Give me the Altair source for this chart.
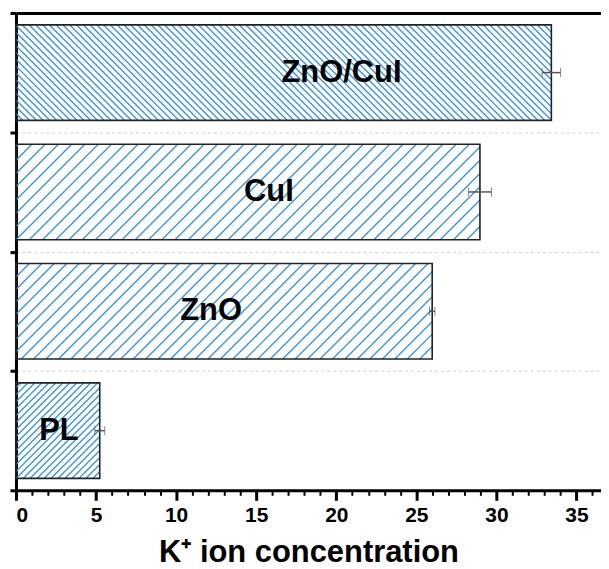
import altair as alt
import pandas as pd
import numpy as np

# ---- data ----
categories = ["PL", "ZnO", "CuI", "ZnO/CuI"]
values = [5.23, 25.99, 28.97, 33.43]
errors = [0.31, 0.17, 0.72, 0.58]

# ---- styles ----
X_MAX = 36.53
W, H = 587, 479
BAR_FRAC = 0.8
BLUE = "#3f94da"
FONT = "Liberation Sans"
hatch_style = {"PL": ("/", 7.0), "ZnO": ("/", 12.5), "CuI": ("/", 13.3), "ZnO/CuI": ("\\", 6.8)}
label_dx = {"PL": 1, "ZnO": -13, "CuI": 21, "ZnO/CuI": 58}

n = len(categories)
kx = W / X_MAX
ky = H / n

df = pd.DataFrame({
    "cat": categories,
    "idx": list(range(n)),
    "val": values,
    "err": errors,
})
df["lo"] = df["val"] - df["err"]
df["hi"] = df["val"] + df["err"]
df["b0"] = df["idx"] - BAR_FRAC / 2
df["b1"] = df["idx"] + BAR_FRAC / 2
df["zero"] = 0.0
df["mid"] = df["val"] / 2

# hatch segments derived from each bar's rectangle (pixel-space 45 degree lines)
segs = []
for c, i, v in zip(categories, range(n), values):
    d, p = hatch_style[c]
    x0, x1 = 0.0, v * kx
    y0, y1 = (i - BAR_FRAC / 2) * ky, (i + BAR_FRAC / 2) * ky
    if d == "/":
        for cc in np.arange(y0 - x1, y1 - x0, p):
            a = max(x0, y0 - cc)
            b = min(x1, y1 - cc)
            if b - a > 0.3:
                segs.append((a / kx, (a + cc) / ky, b / kx, (b + cc) / ky))
    else:
        for cc in np.arange(y0 + x0, y1 + x1, p):
            a = max(x0, cc - y1)
            b = min(x1, cc - y0)
            if b - a > 0.3:
                segs.append((a / kx, (cc - a) / ky, b / kx, (cc - b) / ky))
hdf = pd.DataFrame(segs, columns=["hx1", "hy1", "hx2", "hy2"])

x_scale = alt.Scale(domain=[0, X_MAX], nice=False, zero=False)
y_scale = alt.Scale(domain=[-0.5, n - 0.5], nice=False, zero=False)

minor_axis = alt.Axis(orient="bottom", values=list(range(0, 37)), labels=False,
                      tickSize=5, tickWidth=2, tickColor="black", domain=False,
                      grid=False, title=None)
major_axis = alt.Axis(orient="bottom", values=list(range(0, 36, 5)), tickSize=10,
                      tickWidth=3, tickColor="black", domainWidth=3, domainColor="black",
                      grid=False, labelFont=FONT, labelFontSize=21, labelFontWeight="bold",
                      labelColor="black", labelPadding=4,
                      title="K\u207a ion concentration", titleFont=FONT, titleFontSize=31,
                      titleFontWeight="bold", titleColor="black", titlePadding=12)
top_axis = alt.Axis(orient="top", labels=False, ticks=False, domainWidth=3,
                    domainColor="black", grid=False, title=None)
y_axis = alt.Axis(orient="left", values=[k - 0.5 for k in range(n + 1)], labels=False,
                  tickSize=6, tickWidth=3, tickColor="black", domainWidth=3,
                  domainColor="black", grid=True, gridDash=[3, 3], gridColor="#cfcfcf",
                  gridWidth=1, title=None)

hatch = alt.Chart(hdf).mark_rule(color=BLUE, strokeWidth=1.4).encode(
    x=alt.X("hx1:Q", scale=x_scale, axis=minor_axis),
    x2="hx2:Q",
    y=alt.Y("hy1:Q", scale=y_scale, axis=y_axis),
    y2="hy2:Q",
)

bars = alt.Chart(df).mark_rect(fill=None, stroke="#222222", strokeWidth=1.6).encode(
    x=alt.X("zero:Q", scale=x_scale, axis=major_axis),
    x2="val:Q",
    y=alt.Y("b0:Q", scale=y_scale, axis=None),
    y2="b1:Q",
)

err = alt.Chart(df).mark_errorbar(
    ticks=alt.TickConfig(size=9, color="#555555", strokeWidth=1.5),
    rule=alt.MarkConfig(color="#555555", strokeWidth=1.5),
).encode(
    x=alt.X("lo:Q", scale=x_scale, axis=top_axis),
    x2="hi:Q",
    y=alt.Y("idx:Q", scale=y_scale, axis=None),
)

texts = []
for c in categories:
    texts.append(
        alt.Chart(df[df["cat"] == c]).mark_text(
            font=FONT, fontSize=31, fontWeight="bold", color="black",
            baseline="middle", align="center", dx=label_dx[c],
        ).encode(
            x=alt.X("mid:Q", scale=x_scale, axis=None),
            y=alt.Y("idx:Q", scale=y_scale, axis=None),
            text="cat:N",
        )
    )

chart = alt.layer(hatch, bars, err, *texts).resolve_axis(
    x="independent", y="independent"
).properties(
    width=W, height=H,
    padding={"left": 0, "top": 2, "right": 0, "bottom": 0},
    background="white",
).configure_view(stroke=None)

chart.save("out.html", embed_options={"renderer": "svg", "actions": False})
